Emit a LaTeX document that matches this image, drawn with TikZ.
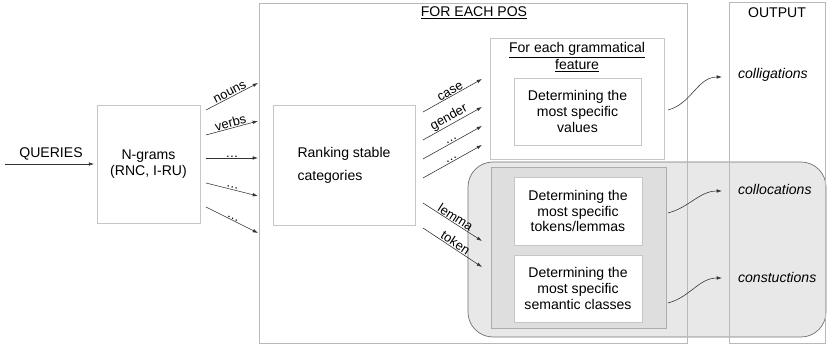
\documentclass[tikz,border=0pt]{standalone}
\usepackage{fontspec}
\setmainfont{Liberation Sans}
\usepackage{tikz}
\usetikzlibrary{arrows.meta}

\begin{document}
\begin{tikzpicture}[x=0.03cm, y=-0.03cm, font=\fontsize{12}{13.6}\selectfont,
  frame/.style={draw=gray!55, line width=0.6pt, inner sep=0pt, outer sep=0pt},
  box/.style={draw=gray!45, fill=white, line width=0.6pt, inner sep=0pt, outer sep=0pt, align=center},
  flow/.style={draw=black!80, line width=0.5pt, -{Latex[length=4.5pt,width=3pt]}},
  lbl/.style={sloped, above, inner sep=0.6pt, font=\fontsize{11}{12}\selectfont},
  res/.style={anchor=west, font=\fontsize{12}{13.6}\selectfont\itshape}]

\useasboundingbox (0,0) rectangle (828,345);

% shaded group (tokens / semantic classes)
\node[draw=black!55, fill=gray!18, rounded corners=0.75cm, line width=0.6pt, inner sep=0pt,
  minimum width=10.74cm, minimum height=5.25cm] (lexgroup) at (647,249.5) {};
\node[draw=gray!65, fill=gray!26, line width=0.6pt, inner sep=0pt,
  minimum width=5.25cm, minimum height=4.83cm] (lexinner) at (578.5,247.5) {};

\node[frame, minimum width=12.84cm, minimum height=10.2cm] (pos) at (473,173) {};
\node[frame, minimum width=2.88cm, minimum height=10.23cm] (output) at (777,172.5) {};
\node (postitle) at (474,13) {\underline{FOR EACH POS}};
\node (outtitle) at (777,13) {OUTPUT};

\node[box, minimum width=3.09cm, minimum height=3.54cm] (ngrams) at (148.5,164) {N-grams\\(RNC, I-RU)};
\node[box, minimum width=4.26cm, minimum height=3.6cm, align=left] (rank) at (344,165) {Ranking stable\\[6pt]categories};

\node[box, minimum width=5.22cm, minimum height=3.63cm] (gram) at (577,98.5) {};
\node[align=center, font=\fontsize{12}{14.5}\selectfont] (gramtitle) at (577,57) {\underline{For each grammatical}\\\underline{feature}};
\node[box, minimum width=3.81cm, minimum height=2.01cm] (values) at (577.5,111.5) {Determining the\\most specific\\values};
\node[box, minimum width=3.84cm, minimum height=2.04cm] (tokens) at (578,211) {Determining the\\most specific\\tokens/lemmas};
\node[box, minimum width=3.84cm, minimum height=2.01cm] (semantic) at (578,288.5) {Determining the\\most specific\\semantic classes};

\node[res] (colligations) at (734,75) {colligations};
\node[res] (collocations) at (734,189) {collocations};
\node[res] (constuctions) at (734,277) {constuctions};

\coordinate (qin) at (5,164);
\draw[flow, shorten >=2.5pt] (qin) -- (ngrams.west) node[midway, above] {QUERIES};

\foreach \sy/\ey/\txt in {-54/-81/nouns, -29/-43/verbs, -6/-6/\dots, 19/32/\dots, 43/69/\dots}
  \draw[flow] ([shift={(6,\sy)}]ngrams.east) -- ([shift={(58,\ey)}]ngrams.east) node[lbl, midway] {\txt};

\foreach \sy/\ey/\txt in {-53/-86/case, -25/-58/gender, -6/-39/\dots, 13/-20/\dots, 38/76/lemma, 63/102/token}
  \draw[flow] ([shift={(8,\sy)}]rank.east) -- ([shift={(67,\ey)}]rank.east) node[lbl, midway] {\txt};

\draw[flow] ([shift={(27,-1.5)}]values.east) to[out=15, in=180] ([shift={(-12,2)}]colligations.west);
\draw[flow] ([shift={(26,2)}]tokens.east) to[out=15, in=180] ([shift={(-12,2)}]collocations.west);
\draw[flow] ([shift={(26,14.5)}]semantic.east) to[out=15, in=180] ([shift={(-12,1)}]constuctions.west);

\end{tikzpicture}
\end{document}
